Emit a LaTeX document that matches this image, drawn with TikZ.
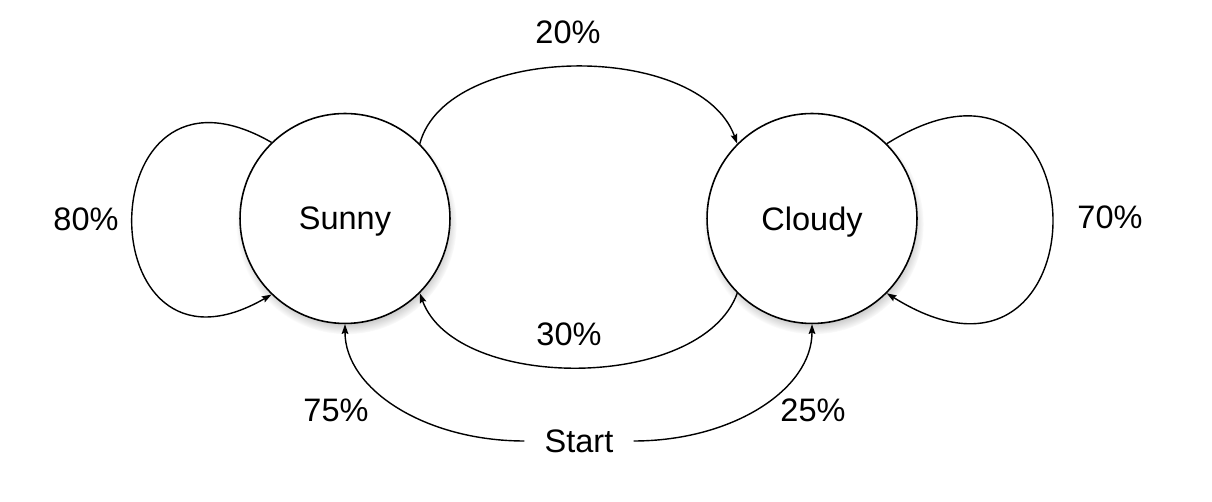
\documentclass[tikz,border=0pt]{standalone}
\usepackage{fontspec}
\setmainfont{Liberation Sans}
\usetikzlibrary{arrows.meta,shadows}

\begin{document}
\begin{tikzpicture}[
    x=0.02cm, y=0.02cm,
    state/.style={circle, draw, line width=0.9pt, fill=white, minimum size=4.2cm, inner sep=0pt,
        text depth=0pt, font=\fontsize{18.5}{22}\selectfont,
        circular drop shadow={shadow xshift=0.8pt, shadow yshift=-3pt, shadow scale=1.05, opacity=0.6}},
    prob/.style={font=\fontsize{18.5}{22}\selectfont, inner sep=0pt},
    arrow/.style={-{Stealth[length=5.5pt, width=3.8pt, inset=0.8pt]}, line width=0.8pt}
]
    \useasboundingbox (0,0) rectangle (1212,502);

    % Nodes
    \node[state] (sunny) at (345,283.5) {Sunny};
    \node[state] (cloudy) at (812,283.5) {Cloudy};
    \node[prob, inner xsep=0.4cm] (start) at (579,61) {Start};

    % Probabilities
    \node[prob] (p80) at (86,282.5) {80\%};
    \node[prob] (p70) at (1110,285) {70\%};
    \node[prob] (p20) at (568,470) {20\%};
    \node[prob] (p30) at (569,168) {30\%};
    \node[prob] (p75) at (336,92) {75\%};
    \node[prob] (p25) at (813,92) {25\%};

    % Arrows
    \draw[arrow] (sunny.45) .. controls +(75:105) and +(110:110) .. (cloudy.135);
    \draw[arrow] (cloudy.225) .. controls +(-110:105) and +(-70:105) .. (sunny.-45);
    \draw[arrow] (sunny.134) .. controls +(150:214) and +(210:214) .. (sunny.226);
    \draw[arrow] (cloudy.45) .. controls +(32:260) and +(-32:260) .. (cloudy.-45);
    \draw[arrow] (start.west) .. controls +(180:99) and +(-90:65) .. (sunny.south);
    \draw[arrow] (start.east) .. controls +(0:99) and +(-90:65) .. (cloudy.south);
\end{tikzpicture}
\end{document}
